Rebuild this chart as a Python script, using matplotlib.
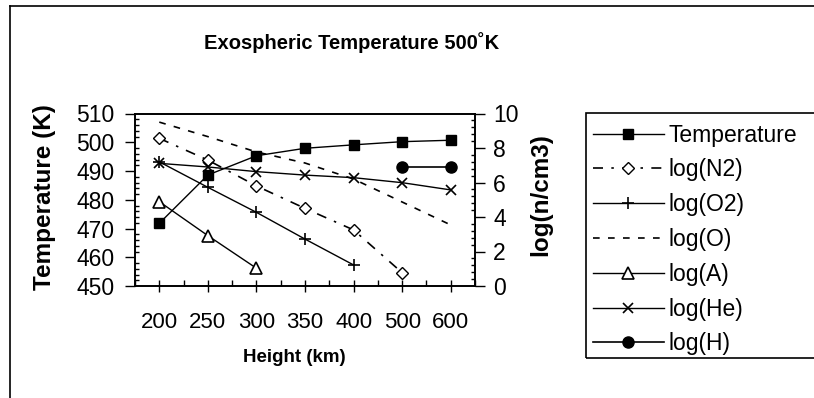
import matplotlib
matplotlib.use("Agg")
import matplotlib.pyplot as plt
from matplotlib.lines import Line2D
from matplotlib.patches import Rectangle
from matplotlib.ticker import MultipleLocator, FixedLocator
import numpy as np

plt.rcParams['font.family'] = ['Liberation Sans', 'DejaVu Sans']

# ************************** Data ****************************
heights = ['200', '250', '300', '350', '400', '500', '600']
nan = np.nan

temperature = [471.8, 488.6, 495.3, 497.9, 499.1, 500.2, 500.7]   # left axis (K)
log_n2 = [8.56, 7.3, 5.8, 4.5, 3.25, 0.77, nan]                     # right axis
log_o2 = [7.2, 5.72, 4.27, 2.72, 1.22, nan, nan]
log_o = [9.5, 8.66, 7.77, 7.13, 6.2, 4.87, 3.54]
log_a = [4.89, 2.92, 1.03, nan, nan, nan, nan]
log_he = [7.11, 6.9, 6.63, 6.43, 6.28, 5.99, 5.57]
log_h = [nan, nan, nan, nan, nan, 6.92, 6.92]

# ************************** Figure setup ****************************
fig = plt.figure(figsize=(8.14, 3.98), dpi=100)
ax = fig.add_axes([135 / 814, 1 - 286 / 398, 340 / 814, 172.5 / 398])
ax2 = ax.twinx()

x = np.arange(len(heights))

# left axis: temperature
ax.plot(x, temperature, color='black', linewidth=1, marker='s', markersize=7.5,
        markerfacecolor='black', label='Temperature')

# right axis: log densities
ax2.plot(x, log_n2, color='black', linewidth=1.2, linestyle=(0, (6, 5, 1.5, 5)),
         marker='D', markersize=6, markerfacecolor='white', label='log(N2)')
ax2.plot(x, log_o2, color='black', linewidth=1, marker='+', markersize=8,
         markeredgewidth=1.2, label='log(O2)')
ax2.plot(x, log_o, color='black', linewidth=1.2, linestyle=(0, (4, 5)), label='log(O)')
ax2.plot(x, log_a, color='black', linewidth=1, marker='^', markersize=9,
         markerfacecolor='white', markeredgewidth=1.2, label='log(A)')
ax2.plot(x, log_he, color='black', linewidth=1, marker='x', markersize=7,
         markeredgewidth=1.2, label='log(He)')
ax2.plot(x, log_h, color='black', linewidth=1.2, marker='o', markersize=8,
         markerfacecolor='black', label='log(H)')

# axis ranges
ax.set_xlim(-0.5, len(heights) - 0.5)
ax.set_ylim(450, 510)
ax2.set_ylim(0, 10)

# ticks
ax.set_xticks(x)
ax.set_xticklabels(heights)
ax.xaxis.set_minor_locator(FixedLocator(np.arange(-0.5, len(heights), 1.0)))
ax.yaxis.set_major_locator(MultipleLocator(10))
ax.yaxis.set_minor_locator(MultipleLocator(2))
ax2.yaxis.set_major_locator(MultipleLocator(2))
ax2.yaxis.set_minor_locator(MultipleLocator(0.4))

ax.tick_params(axis='x', which='major', direction='inout', length=9, width=1,
               labelsize=16, pad=14)
ax.tick_params(axis='x', which='minor', direction='in', length=4, width=1)
ax.tick_params(axis='y', which='major', direction='out', length=7, width=1,
               labelsize=16.5, pad=8)
ax.tick_params(axis='y', which='minor', direction='in', length=3, width=1)
ax2.tick_params(axis='y', which='major', direction='out', length=7, width=1,
                labelsize=16.5, pad=6)
ax2.tick_params(axis='y', which='minor', direction='in', length=3, width=1)

for a in (ax, ax2):
    for s in a.spines.values():
        s.set_linewidth(1.2)

# ************************** Texts ****************************
fig.text(352 / 814, 1 - 43 / 398, 'Exospheric Temperature 500˚K',
         ha='center', va='center', fontsize=14.5, fontweight='bold')
fig.text(45 / 814, 1 - 197 / 398, 'Temperature (K)', rotation=90,
         ha='center', va='center', fontsize=17.5, fontweight='bold')
fig.text(541 / 814, 1 - 195 / 398, 'log(n/cm3)', rotation=90,
         ha='center', va='center', fontsize=17.5, fontweight='bold')
fig.text(294 / 814, 1 - 357 / 398, 'Height (km)',
         ha='center', va='center', fontsize=13.5, fontweight='bold')

# ************************** Legend ****************************
handles = ax.get_legend_handles_labels()[0] + ax2.get_legend_handles_labels()[0]
labels = ax.get_legend_handles_labels()[1] + ax2.get_legend_handles_labels()[1]
leg = fig.legend(handles, labels, loc='upper left',
                 bbox_to_anchor=(588 / 814, 1 - 119 / 398),
                 frameon=False, fontsize=16.5, handlelength=3.1, handletextpad=0.2,
                 labelspacing=0.515, borderaxespad=0, borderpad=0.2)
fig.patches.append(Rectangle((586 / 814, 1 - 358 / 398), 260 / 814, 245 / 398,
                             transform=fig.transFigure, fill=False,
                             edgecolor='black', linewidth=1.2, clip_on=False))

# outer chart border (left and top only are inside the picture)
fig.lines.append(Line2D([10 / 814, 10 / 814], [0, 1 - 6 / 398], transform=fig.transFigure,
                        color='black', linewidth=1.2))
fig.lines.append(Line2D([10 / 814, 1], [1 - 6 / 398, 1 - 6 / 398], transform=fig.transFigure,
                        color='black', linewidth=1.2))

fig.savefig('out.png', dpi=100)
